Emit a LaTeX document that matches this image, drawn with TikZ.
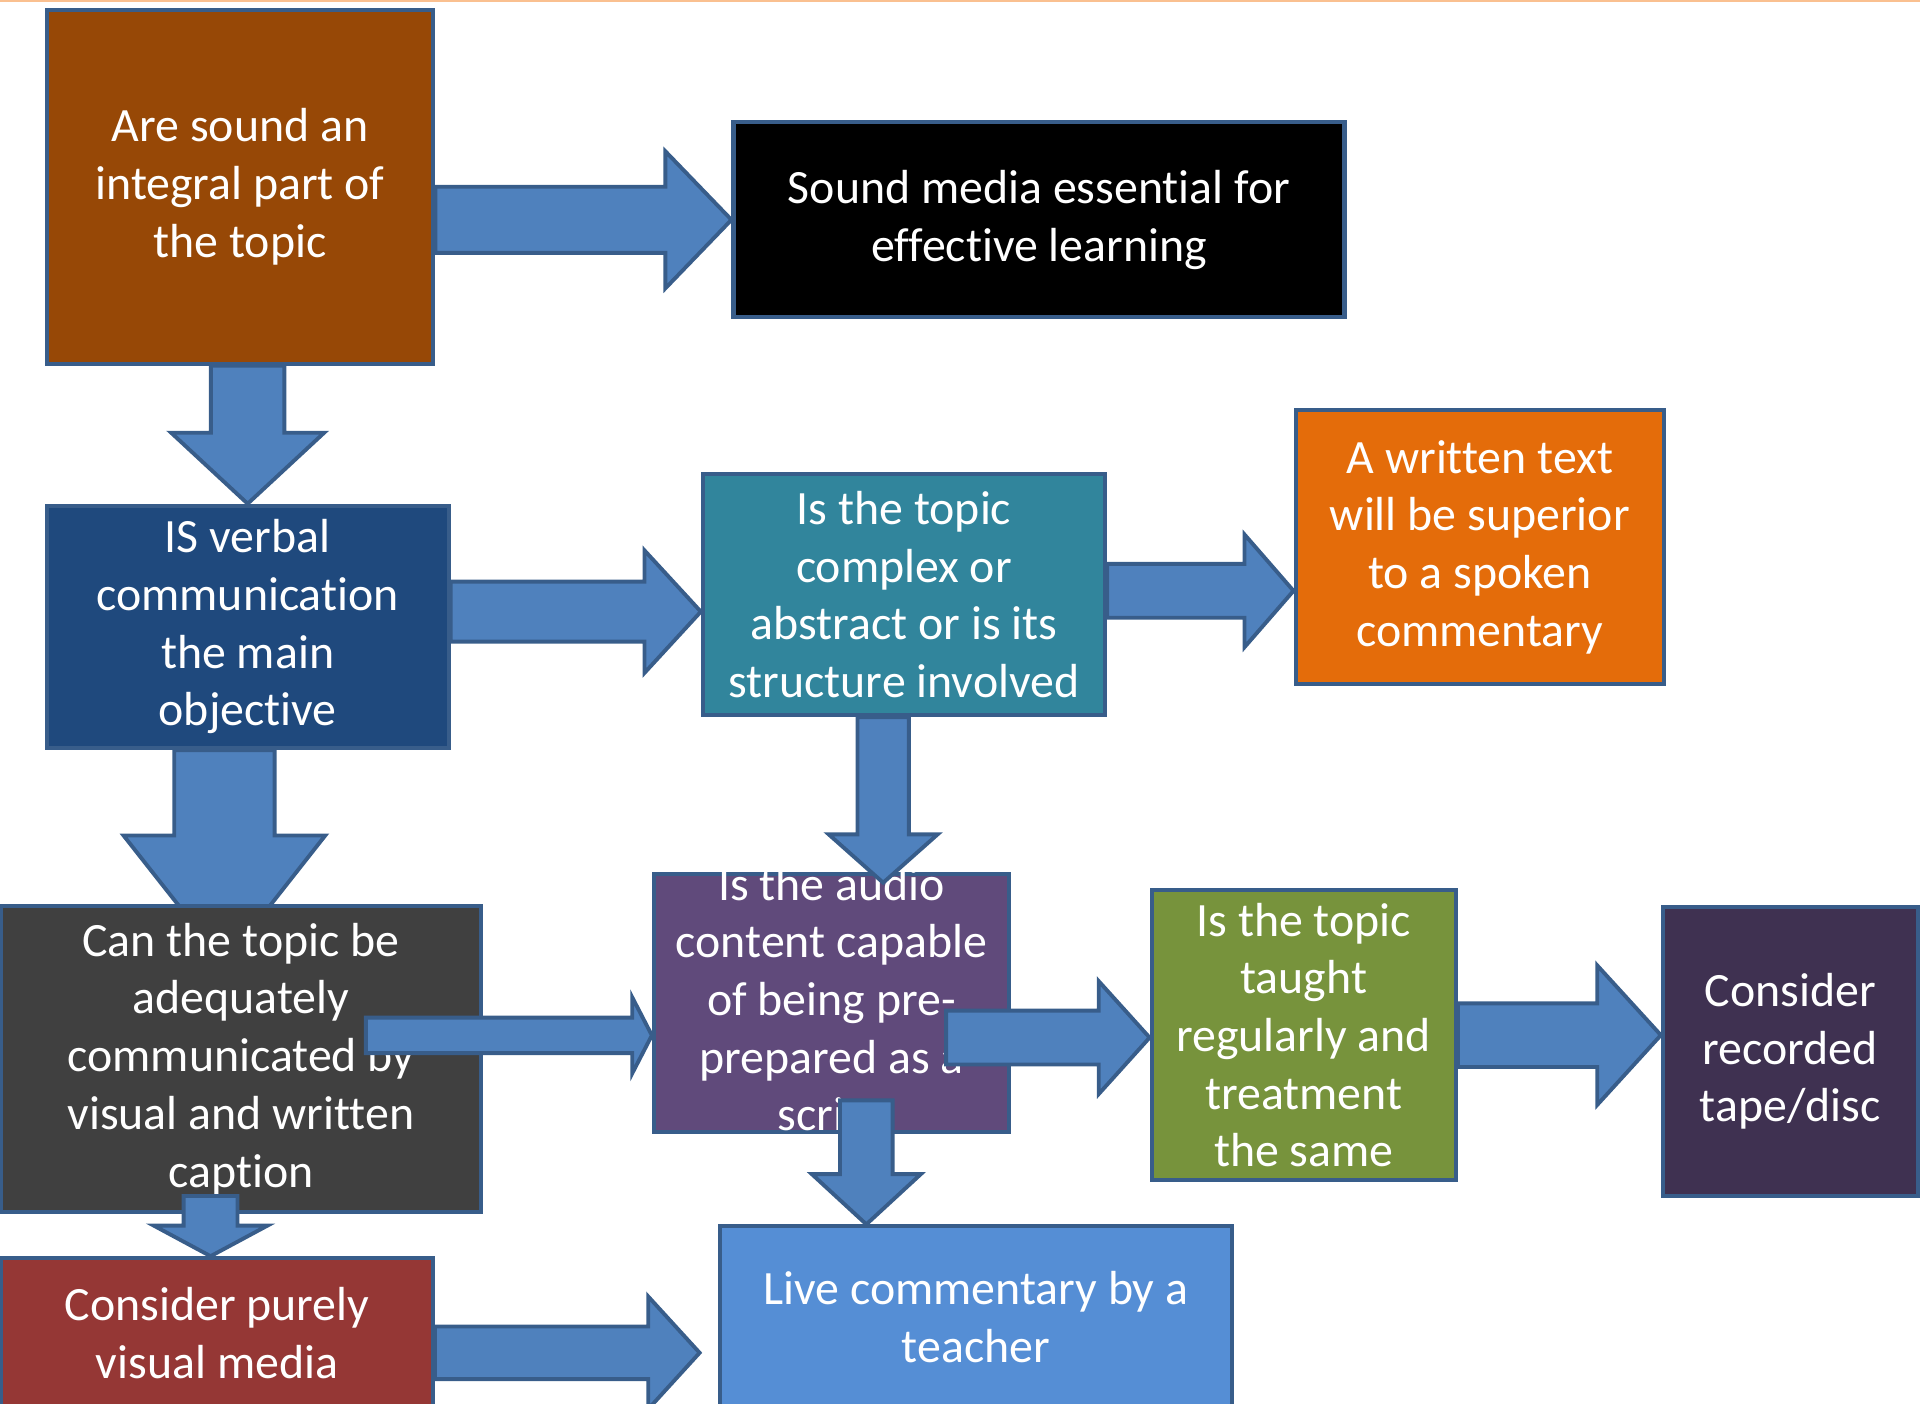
\documentclass[tikz,border=0pt]{standalone}
\usepackage{fontspec}
\setmainfont{Carlito}[Ligatures=NoCommon]
\usepackage{tikz}
\usetikzlibrary{calc}
\definecolor{soundBrown}{HTML}{974806}
\definecolor{verbalBlue}{HTML}{1F497D}
\definecolor{complexTeal}{HTML}{31859C}
\definecolor{writtenOrange}{HTML}{E46C0A}
\definecolor{canGray}{HTML}{404040}
\definecolor{audioPurple}{HTML}{604A7B}
\definecolor{taughtGreen}{HTML}{77933C}
\definecolor{tapePurple}{HTML}{3F3151}
\definecolor{visualRed}{HTML}{953735}
\definecolor{liveBlue}{HTML}{558ED5}
\definecolor{arrowFill}{HTML}{4F81BD}
\definecolor{edgeBlue}{HTML}{385D8A}
\definecolor{topPeach}{HTML}{FAC090}
\newlength{\pix}
\setlength{\pix}{0.012245cm}
\tikzstyle{box} = [rectangle, draw=edgeBlue, line width=1.15pt, text=white, align=center, inner sep=0pt, font=\fontsize{13.6}{16.4}\selectfont, execute at begin node={\rule{0pt}{14pt}}]
\tikzstyle{blockArrow} = [fill=arrowFill, draw=edgeBlue, line width=1.1pt, line join=miter]
\tikzstyle{topLine} = [fill=topPeach]
\newcommand{\blockright}[5]{\filldraw [blockArrow] ($(#1)+(0,-#3)$) -- ($(#2)+(-#5,-#3)$) -- ($(#2)+(-#5,-#4)$) -- (#2) -- ($(#2)+(-#5,#4)$) -- ($(#2)+(-#5,#3)$) -- ($(#1)+(0,#3)$) -- cycle;}
\newcommand{\blockdown}[5]{\filldraw [blockArrow] ($(#1)+(-#3,0)$) -- ($(#2)+(-#3,-#5)$) -- ($(#2)+(-#4,-#5)$) -- (#2) -- ($(#2)+(#4,-#5)$) -- ($(#2)+(#3,-#5)$) -- ($(#1)+(#3,0)$) -- cycle;}
\pgfdeclarelayer{back}
\pgfsetlayers{back,main}
\begin{document}
\begin{tikzpicture}[x=\pix, y=-\pix]
                                \useasboundingbox (0,0) rectangle (1568,1146);
                                \fill [topLine] (0,0) rectangle (1568,2);
                                \node (sound) [box, fill=soundBrown, minimum width=316\pix, minimum height=289\pix] at (196,152.5) {Are sound an\\integral part of\\the topic};
                                \node (media) [box, fill=black, minimum width=499\pix, minimum height=159\pix] at (848.5,179.5) {Sound media essential for\\effective learning};
                                \node (verbal) [box, fill=verbalBlue, minimum width=328.5\pix, minimum height=198\pix] at (202.25,512) {IS verbal\\communication\\the main\\objective};
                                \node (complex) [box, fill=complexTeal, minimum width=328.5\pix, minimum height=197\pix] at (738.25,485.5) {Is the topic\\complex or\\abstract or is its\\structure involved};
                                \node (written) [box, fill=writtenOrange, minimum width=301\pix, minimum height=223.5\pix] at (1208.5,446.75) {A written text\\will be superior\\to a spoken\\commentary};
                                \node (can) [box, fill=canGray, minimum width=391.5\pix, minimum height=250.5\pix] at (196.75,864.75) {Can the topic be\\adequately\\communicated by\\visual and written\\caption};
                                \node (audio) [box, fill=audioPurple, inner ysep=-12pt, minimum width=290\pix, minimum height=211\pix] at (679,819) {Is the audio\\content capable\\of being pre-\\prepared as a\\script};
                                \node (taught) [box, fill=taughtGreen, minimum width=248.5\pix, minimum height=237.3\pix] at (1064.75,845.35) {Is the topic\\taught\\regularly and\\treatment\\the same};
                                \node (tape) [box, fill=tapePurple, minimum width=208\pix, minimum height=236\pix] at (1462,858.6) {Consider\\recorded\\tape/disc};
                                \node (visual) [box, fill=visualRed, minimum width=352.5\pix, minimum height=122.5\pix] at (177.25,1088.75) {Consider purely\\visual media};
                                \node (live) [box, fill=liveBlue, minimum width=418\pix, minimum height=148.5\pix] at (797,1075.75) {Live commentary by a\\teacher};
                                \coordinate (s1) at (sound.east |- media.west);
                                \blockright{s1}{media.west}{27}{56}{54}
                                \coordinate (s2) at (verbal.north |- sound.south);
                                \blockdown{s2}{verbal.north}{30}{62.5}{58}
                                \coordinate (t3) at ($(complex.west)+(0,14)$);
                                \coordinate (s3) at (verbal.east |- t3);
                                \blockright{s3}{t3}{24.5}{50}{46}
                                \coordinate (t4) at ($(written.west |- complex.east)+(0,-3)$);
                                \coordinate (s4) at (complex.east |- t4);
                                \blockright{s4}{t4}{22}{46}{40}
                                \coordinate (s5) at ($(verbal.south)+(-19,0)$);
                                \coordinate (t5) at ($(s5 |- can.north)+(0,49)$);
                                \begin{pgfonlayer}{back}
                                \blockdown{s5}{t5}{41}{82.4}{104.6}
                                \end{pgfonlayer}
                                \coordinate (s6) at ($(complex.south)+(-17,0)$);
                                \coordinate (t6) at ($(s6 |- audio.north)+(0,9)$);
                                \blockdown{s6}{t6}{21}{44.5}{39.5}
                                \coordinate (t7) at ($(audio.west)+(0,26.5)$);
                                \coordinate (s7) at ($(can.center |- t7)+(102,0)$);
                                \blockright{s7}{t7}{14.5}{31}{16}
                                \coordinate (t8) at ($(taught.west)+(0,2)$);
                                \coordinate (s8) at ($(audio.east |- t8)+(-53,0)$);
                                \blockright{s8}{t8}{22}{46}{41.5}
                                \coordinate (s9) at ($(audio.south)+(28.5,-27.5)$);
                                \coordinate (t9) at (s9 |- live.north);
                                \blockdown{s9}{t9}{21.5}{44.5}{41}
                                \coordinate (s10) at ($(can.south)+(-24.75,-15)$);
                                \coordinate (t10) at (s10 |- visual.north);
                                \blockdown{s10}{t10}{22}{46.5}{25}
                                \coordinate (t11) at ($(live.west)+(-15,29)$);
                                \coordinate (s11) at (visual.east |- t11);
                                \blockright{s11}{t11}{21.5}{46}{42}
                                \coordinate (t12) at (tape.west |- taught.east);
                                \blockright{taught.east}{t12}{26}{57}{52}
\end{tikzpicture}
\end{document}
